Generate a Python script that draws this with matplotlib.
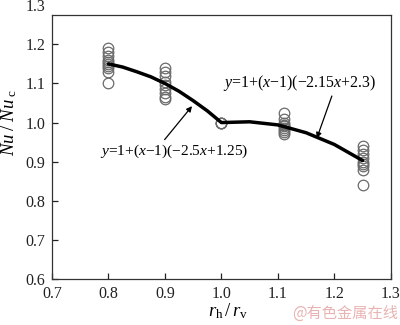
import matplotlib
matplotlib.use("Agg")
import matplotlib.pyplot as plt

# ---- data ----
ratio_08 = [1.19, 1.18, 1.17, 1.16, 1.155, 1.15, 1.145, 1.14, 1.13, 1.10]
ratio_09 = [1.14, 1.13, 1.12, 1.105, 1.095, 1.085, 1.075, 1.065, 1.06]
ratio_10 = [1.0, 1.0, 1.0]
ratio_111 = [1.025, 1.01, 1.0, 0.995, 0.99, 0.985, 0.98, 0.975, 0.97]
ratio_125 = [0.94, 0.93, 0.92, 0.91, 0.90, 0.895, 0.89, 0.88, 0.84]
group_x = [0.8, 0.9, 1.0, 1.111, 1.25]
groups = [ratio_08, ratio_09, ratio_10, ratio_111, ratio_125]

curve_x = [0.8, 0.825, 0.85, 0.875, 0.9, 0.925, 0.95, 0.975, 1.0,
           1.05, 1.1, 1.15, 1.2, 1.25]
curve_y = [1.15, 1.142, 1.13, 1.117, 1.10, 1.080, 1.056, 1.030, 1.0,
           1.002, 0.994, 0.974, 0.944, 0.903]

xticks = [0.7, 0.8, 0.9, 1.0, 1.1, 1.2, 1.3]
yticks = [0.6, 0.7, 0.8, 0.9, 1.0, 1.1, 1.2]

label_left = r"$y$=1+($x$$-$1)($-$2.5$x$+1.25)"
label_right = r"$y$=1+($x$$-$1)($-$2.15$x$+2.3)"

plt.rcParams['font.family'] = ['Liberation Serif', 'DejaVu Serif']
plt.rcParams['mathtext.fontset'] = 'custom'
plt.rcParams['mathtext.it'] = 'Liberation Serif:italic'
plt.rcParams['mathtext.rm'] = 'Liberation Serif'

fig = plt.figure(figsize=(4.0, 3.25), dpi=100)
ax = fig.add_axes([0.13, 0.1415, 0.847, 0.8123])

for gx, vals in zip(group_x, groups):
    ax.plot([gx] * len(vals), vals, linestyle='none', marker='o', ms=7.6,
            mfc='none', mec='#6a6a6a', mew=0.9, zorder=2)

ax.plot(curve_x, curve_y, color='black', lw=2.5, zorder=3,
        solid_capstyle='round')

ax.set_xlim(0.7, 1.3)
ax.set_ylim(0.6, 1.275)
ax.set_xticks(xticks)
ax.set_yticks(yticks)
ax.set_xticklabels([f"{v:.1f}" for v in xticks])
ax.set_yticklabels([f"{v:.1f}" for v in yticks])
ax.tick_params(direction='in', length=4, width=0.9, labelsize=11.5,
               top=False, right=False, pad=5, colors='#222222')
ax.annotate("1.3", xy=(0, 1.3), xycoords=ax.get_yaxis_transform(),
            xytext=(-5, -1.5), textcoords='offset points', ha='right',
            va='center', fontsize=11.5, color='#222222', annotation_clip=False)
for s in ax.spines.values():
    s.set_linewidth(0.9)
    s.set_color('#333333')

ax.set_ylabel(r"$Nu\;/\;Nu\,_{\rm c}$", fontsize=13.5)
ax.yaxis.set_label_coords(-0.098, 0.59)
ax.set_xlabel(r"$r_{\rm h}\,/\,r_{\rm v}$", fontsize=13.5)
ax.xaxis.set_label_coords(0.519, -0.085)

ax.annotate(label_left, xy=(0.948, 1.042), xytext=(0.785, 0.905),
            fontsize=11.1, ha='left', va='bottom',
            arrowprops=dict(arrowstyle='-|>', color='black', lw=0.9,
                            mutation_scale=8, shrinkA=0, shrinkB=0,
                            relpos=(0.42, 1.0)))
ax.annotate(label_right, xy=(1.169, 0.960), xytext=(1.002, 1.075),
            fontsize=11.4, ha='left', va='bottom',
            arrowprops=dict(arrowstyle='-|>', color='black', lw=0.9,
                            mutation_scale=8, shrinkA=0, shrinkB=0,
                            relpos=(0.72, 0.0)))

fig.text(0.8625, 0.037, "@有色金属在线", fontsize=11, color='#e9b3b3',
         ha='center', va='center', family=['Noto Sans CJK SC', 'DejaVu Sans'])

fig.savefig("out.png", dpi=100)
